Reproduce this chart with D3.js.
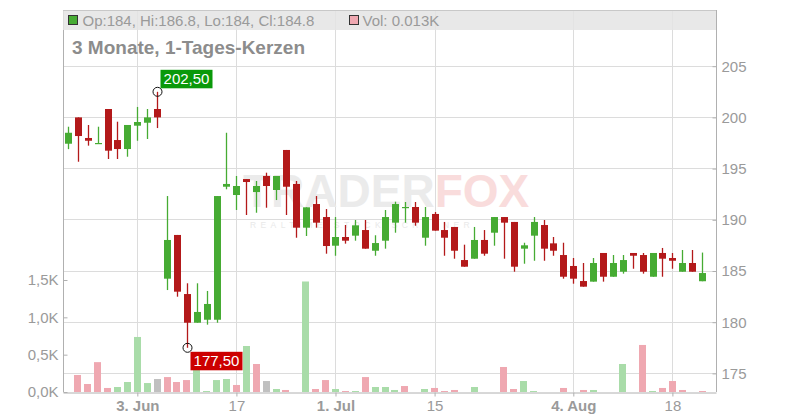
<!DOCTYPE html>
<html>
<head>
<meta charset="utf-8">
<script src="https://cdn.jsdelivr.net/npm/d3@7/dist/d3.min.js"></script>
<style>
  html, body { margin: 0; padding: 0; background: #fff; }
  svg { display: block; font-family: "Liberation Sans", Arial, sans-serif; }
</style>
</head>
<body>
<svg id="chart" width="800" height="420"></svg>
<script>
// ---- data (one entry per trading day, index 0..64) ----
const opens = [197.43,200.00,197.99,197.45,200.82,197.79,196.91,199.19,199.48,200.82,
  184.25,188.52,182.75,179.95,180.24,180.24,193.23,192.42,193.98,192.71,
  194.28,192.91,196.82,193.50,189.23,191.54,190.27,187.47,188.32,188.45,
  189.00,186.98,187.96,189.72,191.20,191.25,188.25,190.57,189.00,189.30,
  186.07,186.20,188.03,188.74,190.27,189.79,187.18,188.45,189.49,187.70,
  186.56,185.49,184.02,183.96,186.76,184.44,184.93,186.76,186.56,184.44,
  186.76,186.27,184.93,185.78,184.00];
const highs = [199.09,200.00,199.26,199.09,200.82,199.58,199.26,201.02,200.82,202.50,
  192.32,188.52,183.80,183.80,183.05,192.32,198.50,194.28,193.98,193.79,
  194.60,194.28,196.82,193.79,191.22,192.32,191.05,190.27,189.49,189.98,
  189.98,188.49,190.96,191.77,191.74,191.74,191.25,190.76,189.79,189.30,
  187.57,189.30,189.00,190.27,190.27,189.79,187.76,190.27,189.98,188.32,
  187.76,186.27,185.78,186.27,186.76,186.56,186.56,186.76,186.76,186.76,
  187.25,186.76,187.05,187.05,186.80];
const lows = [196.90,195.67,197.24,197.45,195.94,195.94,196.16,197.72,197.89,198.96,
  183.14,182.49,177.50,179.95,179.76,179.95,192.98,190.96,190.47,190.69,
  191.18,191.93,190.47,188.25,188.42,189.23,186.69,186.49,187.67,187.96,
  187.18,186.49,187.18,188.74,189.72,189.42,187.47,188.94,186.49,186.20,
  185.42,186.20,186.49,187.47,186.20,184.93,185.71,186.00,186.00,186.49,
  184.25,183.76,183.47,183.96,183.96,184.44,184.74,185.22,184.74,184.44,
  184.44,185.22,184.93,184.93,184.00];
const closes = [198.50,198.18,197.72,197.50,196.75,196.91,199.26,199.55,200.00,200.00,
  188.03,182.98,179.95,181.00,181.78,192.32,193.50,193.30,193.69,193.30,
  193.30,194.28,193.23,189.23,191.22,189.72,187.44,188.32,187.96,189.46,
  187.18,187.73,190.27,191.54,191.25,189.72,190.27,188.94,188.25,186.98,
  185.42,188.03,186.69,190.27,189.72,185.42,187.51,189.79,187.18,186.98,
  184.44,184.25,183.47,185.78,184.44,185.78,186.07,186.49,184.93,186.76,
  186.20,186.00,185.78,184.93,184.80];
// volume in thousands
const volumes = [0,0.228,0.107,0.400,0.054,0.067,0.134,0.737,0.120,0.174,
  0.200,0.134,0.160,0.350,0.013,0.160,0.174,0.094,0.616,0.375,
  0.147,0.040,0.027,0,1.480,0.040,0.160,0.040,0.013,0.013,
  0.200,0.067,0.067,0.027,0.080,0,0.040,0.054,0.013,0.027,
  0,0.067,0,0,0.335,0.040,0.147,0.013,0,0,
  0.054,0,0.027,0.027,0,0,0.375,0,0.630,0.013,
  0.054,0.147,0.027,0,0.013];

const dateTickIndex = [7, 17, 27, 37, 51, 61];
const dateTickLabels = ["3. Jun", "17", "1. Jul", "15", "4. Aug", "18"];
const dateTickBold = [true, false, true, false, true, false];
const priceTicks = [175, 180, 185, 190, 195, 200, 205];
const volumeTicks = [0, 0.5, 1.0, 1.5];
const titleText = "3 Monate, 1-Tages-Kerzen";
const legendPriceText = "Op:184, Hi:186.8, Lo:184, Cl:184.8";
const legendVolText = "Vol: 0.013K";
const highLabel = "202,50";
const lowLabel = "177,50";

// ---- layout ----
const L = 63, R = 716, T = 10, B = 392;
const svg = d3.select("#chart");

const idx = d3.range(opens.length);
const x = d3.scaleLinear().domain([-0.5, 65.4]).range([L, R]);
const y = d3.scaleLinear().domain([175, 205]).range([373.4, 66.2]);
const yv = d3.scaleLinear().domain([0, 1.5]).range([B, 280]);

const GREEN = "#46ab33", RED = "#b3191a";
const VGREEN = "#a9dca9", VRED = "#efa8b1", VGRAY = "#c0c0c0";
const GRID = "#dcdcdc", TXT = "#9a9a9a";

// gridlines
svg.append("g").selectAll("line.h").data(priceTicks).join("line")
  .attr("x1", L).attr("x2", R).attr("y1", d => y(d)).attr("y2", d => y(d))
  .attr("stroke", GRID).attr("stroke-width", 1).attr("shape-rendering", "crispEdges");
svg.append("g").selectAll("line.v").data(dateTickIndex).join("line")
  .attr("x1", d => Math.round(x(d)) + 0.5).attr("x2", d => Math.round(x(d)) + 0.5)
  .attr("y1", T).attr("y2", B)
  .attr("stroke", GRID).attr("stroke-width", 1);

// watermark
const wmText = svg.append("text").attr("x", 243).attr("y", 207).attr("font-size", 46)
  .attr("font-weight", "bold").attr("font-family", "Liberation Sans, Arial, sans-serif");
wmText.append("tspan").attr("fill", "#ebebeb").text("TRADER");
wmText.append("tspan").attr("fill", "#f9dcdc").text("FOX");
svg.append("text").attr("x", 250).attr("y", 227.5).attr("font-size", 8.5)
  .attr("letter-spacing", 4.4).attr("fill", "#e9e9e9").text("REALTIME STOCK SCREENER");

// volume bars
const volColor = i => {
  if (i === 0) return VGRAY;
  if (closes[i] > closes[i - 1]) return VGREEN;
  if (closes[i] < closes[i - 1]) return VRED;
  return VGRAY;
};
svg.append("g").selectAll("rect").data(idx.filter(i => volumes[i] > 0)).join("rect")
  .attr("x", i => Math.round(x(i) - 3.5)).attr("width", 7)
  .attr("y", i => yv(volumes[i])).attr("height", i => B - yv(volumes[i]))
  .attr("fill", i => volColor(i));

// candles
const cg = svg.append("g");
const cand = cg.selectAll("g").data(idx).join("g")
  .attr("transform", i => `translate(${Math.round(x(i))},0)`);
cand.append("line")
  .attr("x1", 0.5).attr("x2", 0.5)
  .attr("y1", i => y(highs[i])).attr("y2", i => y(lows[i]))
  .attr("stroke", i => closes[i] >= opens[i] ? GREEN : RED).attr("stroke-width", 1.3);
cand.append("rect")
  .attr("x", -3).attr("width", 7)
  .attr("y", i => y(Math.max(opens[i], closes[i])))
  .attr("height", i => Math.max(1.2, Math.abs(y(opens[i]) - y(closes[i]))))
  .attr("fill", i => closes[i] >= opens[i] ? GREEN : RED);

// axes
const axisStyle = g => {
  g.selectAll(".domain").attr("stroke", "#b0b0b0");
  g.selectAll(".tick line").attr("stroke", "#b0b0b0");
  g.selectAll("text").attr("fill", TXT).attr("font-size", 15)
    .attr("font-family", "Liberation Sans, Arial, sans-serif");
};
svg.append("g").attr("transform", `translate(${R + 0.5},0)`)
  .call(d3.axisRight(y).tickValues(priceTicks).tickSize(-4).tickSizeOuter(0).tickPadding(5)
    .tickFormat(d => String(d)))
  .call(axisStyle)
  .call(g => g.select(".domain").attr("d", `M0,${T}V${B}`));
svg.append("g").attr("transform", `translate(${L + 0.5},0)`)
  .call(d3.axisLeft(yv).tickValues(volumeTicks).tickSize(-4).tickSizeOuter(0).tickPadding(5)
    .tickFormat(d => d.toFixed(1).replace(".", ",") + "K"))
  .call(axisStyle)
  .call(g => g.select(".domain").attr("d", `M0,${T}V${B}`));
svg.append("g").attr("transform", `translate(0,${B + 0.5})`)
  .call(d3.axisBottom(x).tickValues(dateTickIndex).tickSize(4).tickSizeOuter(0).tickPadding(4)
    .tickFormat((d, k) => dateTickLabels[k]))
  .call(axisStyle)
  .call(g => g.selectAll("text").attr("font-weight", (d, k) => dateTickBold[k] ? "bold" : "normal"));

// legend bar
svg.append("rect").attr("x", L).attr("y", T).attr("width", R - L).attr("height", 20)
  .attr("fill", "#e4e4e4").attr("fill-opacity", 0.85);
svg.append("line").attr("x1", L).attr("x2", R).attr("y1", T + 0.5).attr("y2", T + 0.5)
  .attr("stroke", "#c8c8c8");
svg.append("rect").attr("x", 68.5).attr("y", 15.5).attr("width", 9).attr("height", 9)
  .attr("fill", GREEN).attr("stroke", "#333").attr("stroke-width", 1);
svg.append("text").attr("x", 82.5).attr("y", 25.5).attr("font-size", 15).attr("fill", TXT)
  .text(legendPriceText);
svg.append("rect").attr("x", 349.5).attr("y", 15.5).attr("width", 9).attr("height", 9)
  .attr("fill", VRED).attr("stroke", "#333").attr("stroke-width", 1);
svg.append("text").attr("x", 362.5).attr("y", 25.5).attr("font-size", 15).attr("fill", TXT)
  .text(legendVolText);

// title
svg.append("text").attr("x", 72).attr("y", 54).attr("font-size", 19).attr("font-weight", "bold")
  .attr("fill", "#8c8c8c").text(titleText);

// high / low markers
const hiIdx = highs.indexOf(d3.max(highs));
const loIdx = lows.indexOf(d3.min(lows));
const markers = [
  {i: hiIdx, v: highs[hiIdx], txt: highLabel, bg: "#0a990a", dx: 3, dy: -22},
  {i: loIdx, v: lows[loIdx], txt: lowLabel, bg: "#cc0000", dx: 3, dy: 4}
];
markers.forEach(m => {
  const cx = Math.round(x(m.i)) + 0.5, cy = y(m.v);
  svg.append("circle").attr("cx", cx).attr("cy", cy).attr("r", 4.5)
    .attr("fill", "none").attr("stroke", "#111").attr("stroke-width", 1);
  const bx = cx + m.dx, by = cy + m.dy;
  svg.append("rect").attr("x", bx).attr("y", by).attr("width", 52).attr("height", 18.5)
    .attr("fill", m.bg);
  svg.append("text").attr("x", bx + 26).attr("y", by + 14.5).attr("text-anchor", "middle")
    .attr("font-size", 15).attr("fill", "#fff").text(m.txt);
});
</script>
</body>
</html>
